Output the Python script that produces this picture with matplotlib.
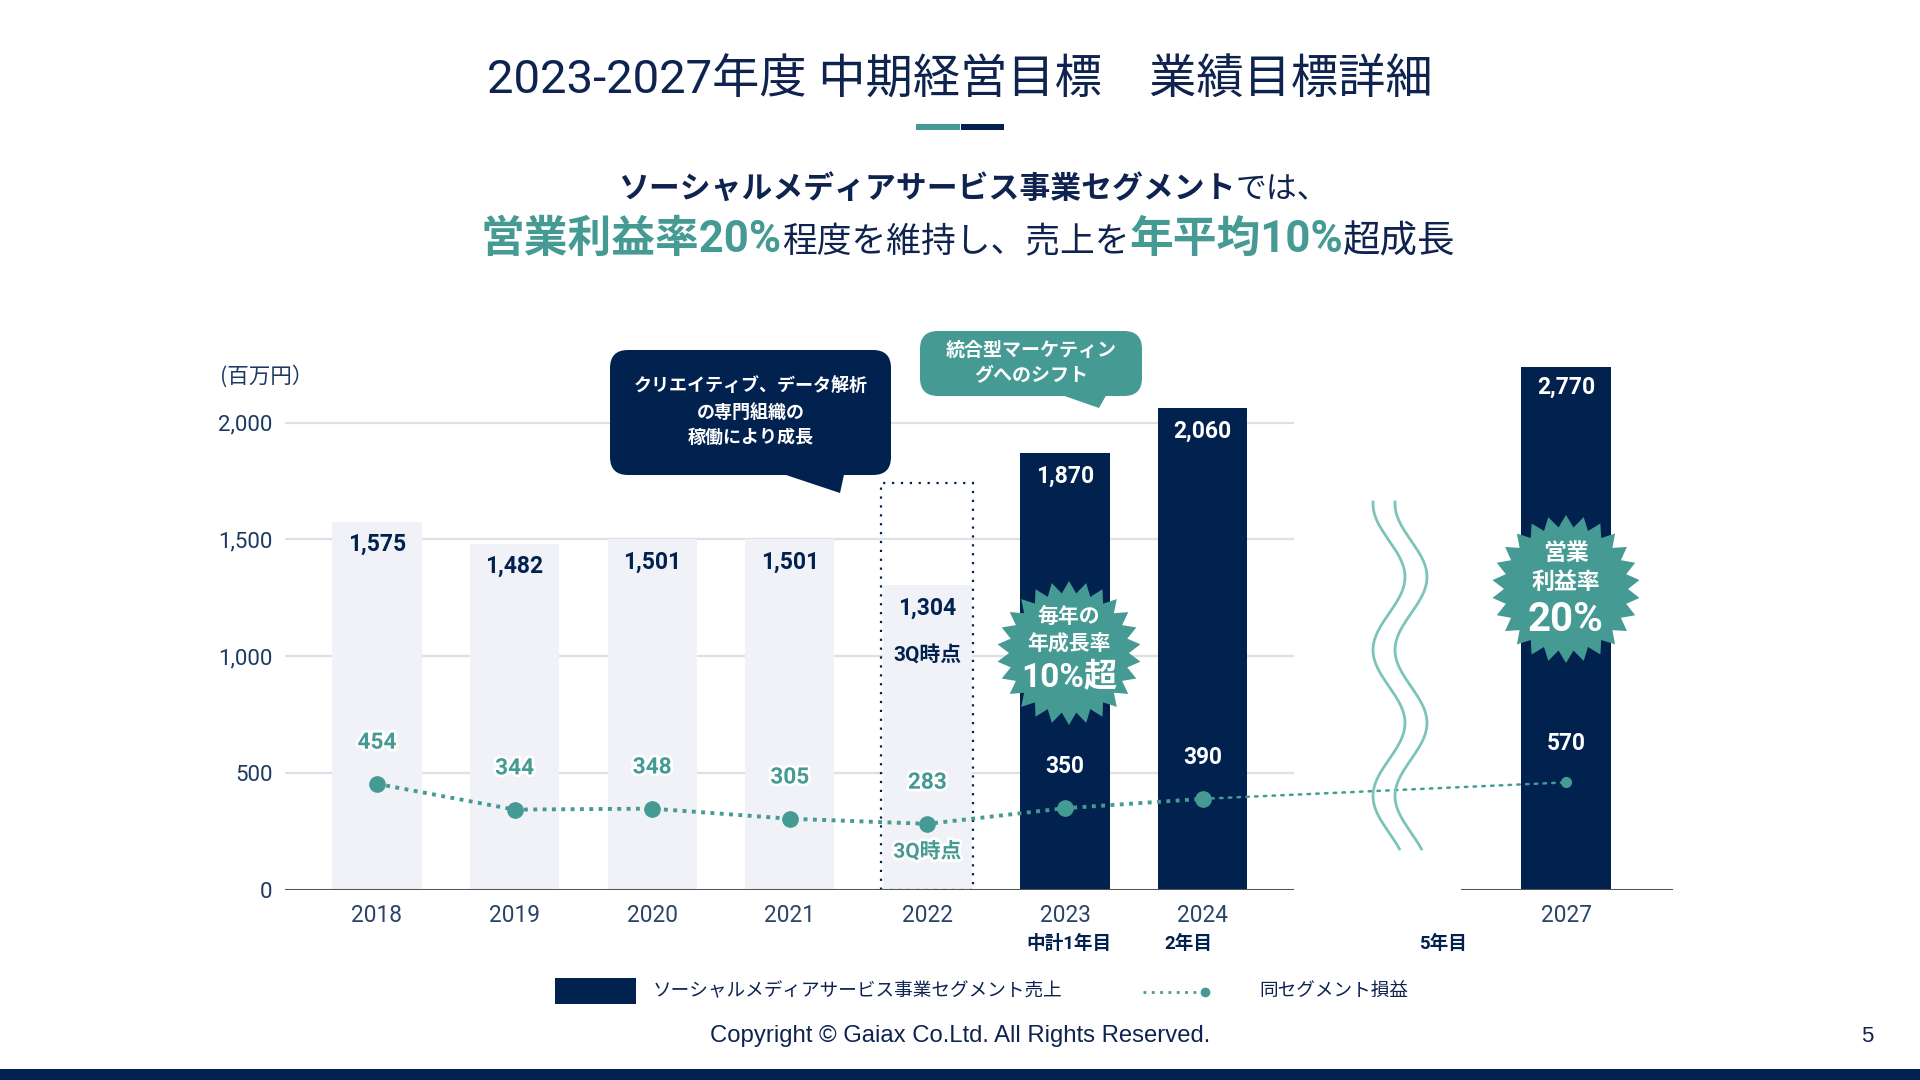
import matplotlib
matplotlib.use('Agg')
import matplotlib.pyplot as plt
from matplotlib.patches import Rectangle, FancyBboxPatch, Polygon, ConnectionPatch
from matplotlib.lines import Line2D
from matplotlib.transforms import Affine2D
import matplotlib.patheffects as pe
import numpy as np

# ---------------- data ----------------
years = ['2018', '2019', '2020', '2021', '2022', '2023', '2024']
sales = [1575, 1482, 1501, 1501, 1304, 1870, 2060]
profit = [454, 344, 348, 305, 283, 350, 390]
plan_year = '2027'
plan_sales = 2770
plan_profit = 570
yticks = [0, 500, 1000, 1500, 2000]
sub_labels = {'2023': '中計1年目', '2024': '2年目'}
plan_sub_label = '5年目'
partial_year = '2022'
partial_note = '3Q時点'
partial_box_top = 1740

# ---------------- style ----------------
W, H = 1920, 1080
NAVY = '#01214F'
TEAL = '#469A94'
WAVE = '#7CC4BA'
LIGHT = '#F0F2F7'
GRID = '#DDE0E7'
TXT = '#1D3A63'
JP = ['Noto Sans CJK JP', 'DejaVu Sans']
NUM = ['Roboto', 'Noto Sans CJK JP', 'DejaVu Sans']

fig = plt.figure(figsize=(19.2, 10.8), dpi=100)
fig.patch.set_facecolor('white')
px = Affine2D().scale(1, -1).translate(0, H)  # top-left origin pixel coords
renderer = fig.canvas.get_renderer()

# ---------------- main axes ----------------
unit_px = 137.6
base_y = 890
ax = fig.add_axes([285 / W, (H - base_y) / H, 1009 / W, (base_y - 375.75) / H])
x = np.arange(len(years))
ax.set_xlim((285 - 377) / unit_px, (1294 - 377) / unit_px)
ax.set_ylim(0, 2200)
for s in ax.spines.values():
    s.set_visible(False)
ax.patch.set_alpha(0)
xl = ax.get_xlim()
ax.hlines(yticks[1:], xl[0], xl[1], color=GRID, lw=1.6, zorder=1)
ax.axhline(0, color='#555555', lw=2.2, zorder=6)

colors = [LIGHT if i < 5 else NAVY for i in range(len(years))]
ax.bar(x, sales, width=0.647, color=colors, zorder=2)

ax.set_yticks(yticks, [f'{v:,}' for v in yticks])
ax.set_xticks(x, years)
ax.tick_params(axis='y', length=0, pad=9, labelsize=16, labelcolor=TXT)
ax.tick_params(axis='x', length=0, pad=10, labelsize=16.3, labelcolor='#2A4468')
for lab in ax.get_yticklabels() + ax.get_xticklabels():
    lab.set_family(NUM)

# 2022 dotted box
pi = years.index(partial_year)
ax.add_patch(Rectangle((pi - 0.335, 0), 0.67, partial_box_top, fill=False,
                       edgecolor=NAVY, lw=1.6, ls=(0, (1, 3)), zorder=3))

# sales labels
for i, v in enumerate(sales):
    c = NAVY if i < 5 else 'white'
    ax.annotate(f'{v:,}', (i, v), xytext=(0, -16.5), textcoords='offset points',
                ha='center', va='center', fontsize=16.5, fontweight='bold', color=c,
                family=NUM, zorder=7)
ax.annotate(partial_note, (pi, sales[pi]), xytext=(0, -51), textcoords='offset points',
            ha='center', va='center', fontsize=15, fontweight='bold', color=NAVY,
            family=NUM, zorder=7)

# profit line
ax.plot(x, profit, color=TEAL, lw=2.8, ls=(0, (1, 1.4)), marker='o', ms=11,
        markerfacecolor=TEAL, markeredgecolor=TEAL, zorder=5)
for i, v in enumerate(profit):
    c = TEAL if i < 5 else 'white'
    t = ax.annotate(f'{v}', (i, v), xytext=(0, 30), textcoords='offset points',
                    ha='center', va='center', fontsize=16.3, fontweight='bold', color=c,
                    family=NUM, zorder=7)
    if i < 5:
        t.set_path_effects([pe.withStroke(linewidth=4, foreground='white')])
t = ax.annotate(partial_note, (pi, profit[pi]), xytext=(0, -20), textcoords='offset points',
                ha='center', va='center', fontsize=15, fontweight='bold', color=TEAL,
                family=NUM, zorder=7)
t.set_path_effects([pe.withStroke(linewidth=4, foreground='white')])

# sub labels
for yr, lab in sub_labels.items():
    i = years.index(yr)
    dx = 3 if lab.startswith('中') else -10
    ax.annotate(lab, (i, 0), xytext=(dx, -39), textcoords='offset points',
                ha='center', va='center', fontsize=13.4, fontweight='bold', color=NAVY,
                family=NUM, annotation_clip=False)

# ---------------- plan (2027) axes ----------------
top2 = 340
ax2 = fig.add_axes([1461 / W, (H - base_y) / H, 212 / W, (base_y - top2) / H])
ax2.set_xlim((1461 - 1566) / unit_px, (1673 - 1566) / unit_px)
ax2.set_ylim(0, plan_sales * (base_y - top2) / (base_y - 367))
for s in ax2.spines.values():
    s.set_visible(False)
ax2.patch.set_alpha(0)
ax2.axhline(0, color='#555555', lw=2.2, zorder=6)
ax2.bar([0], [plan_sales], width=0.647, color=NAVY, zorder=2)
ax2.set_yticks([])
ax2.set_xticks([0], [plan_year])
ax2.tick_params(axis='x', length=0, pad=10, labelsize=16.3, labelcolor='#2A4468')
for lab in ax2.get_xticklabels():
    lab.set_family(NUM)
ax2.annotate(f'{plan_sales:,}', (0, plan_sales), xytext=(0, -14.5), textcoords='offset points',
             ha='center', va='center', fontsize=16.5, fontweight='bold', color='white', family=NUM)
ax2.plot([0], [plan_profit], marker='o', ms=7, color=TEAL, zorder=5)
ax2.annotate(f'{plan_profit}', (0, plan_profit), xytext=(0, 28), textcoords='offset points',
             ha='center', va='center', fontsize=16.3, fontweight='bold', color='white', family=NUM)
ax2.annotate(plan_sub_label, (0, 0), xytext=(-88.5, -39), textcoords='offset points',
             ha='center', va='center', fontsize=13.4, fontweight='bold', color=NAVY,
             family=NUM, annotation_clip=False)

con = ConnectionPatch(xyA=(len(years) - 1, profit[-1]), coordsA=ax.transData,
                      xyB=(0, plan_profit), coordsB=ax2.transData,
                      color=TEAL, lw=1.8, ls=(0, (1, 2.5)), zorder=3)
fig.add_artist(con)

# wavy break lines
yy = np.linspace(502, 849, 200)
for off in (0, 22):
    xx = 1389 + off + 16 * np.sin(2 * np.pi * (yy - 540.5) / 146)
    fig.add_artist(Line2D(xx, yy, color=WAVE, lw=2, transform=px, zorder=4))

# ---------------- badges ----------------
def star(cx, cy, R, r, n):
    ang = np.linspace(0, 2 * np.pi, 2 * n, endpoint=False) + np.pi / 2
    rad = np.where(np.arange(2 * n) % 2 == 0, R, r)
    pts = np.column_stack([cx + rad * np.cos(ang), cy - rad * np.sin(ang)])
    fig.add_artist(Polygon(pts, closed=True, transform=px, facecolor=TEAL,
                           edgecolor='none', zorder=8))

star(1069, 653, 72, 60, 26)
for s, yv, fs in [('毎年の', 617, 15), ('年成長率', 643, 15), ('10%超', 678, 24)]:
    fig.text(1069, yv, s, transform=px, ha='center', va='center', fontsize=fs,
             fontweight='bold', color='white', family=NUM, zorder=9)
star(1566, 589, 74, 62, 26)
for s, yv, fs in [('営業', 553, 16.5), ('利益率', 582, 16.5), ('20%', 620, 29)]:
    fig.text(1566, yv, s, transform=px, ha='center', va='center', fontsize=fs,
             fontweight='bold', color='white', family=NUM, zorder=9)

# ---------------- callouts ----------------
def callout(x0, y0, x1, y1, tail, color, lines, cx, ys, fs):
    fig.add_artist(FancyBboxPatch((x0, y0), x1 - x0, y1 - y0,
                                  boxstyle='round,pad=0,rounding_size=18',
                                  transform=px, facecolor=color, edgecolor='none', zorder=8))
    fig.add_artist(Polygon(tail, closed=True, transform=px, facecolor=color,
                           edgecolor='none', zorder=8))
    for s, yv in zip(lines, ys):
        fig.text(cx, yv, s, transform=px, ha='center', va='center', fontsize=fs,
                 fontweight='bold', color='white', family=JP, zorder=9)

callout(610, 350, 891, 475, [(771, 470), (845, 470), (840, 493)], NAVY,
        ['クリエイティブ、データ解析', 'の専門組織の', '稼働により成長'], 751, [386, 412, 437], 13)
callout(920, 331, 1142, 396, [(1053, 392), (1108, 392), (1099, 408)], TEAL,
        ['統合型マーケティン', 'グへのシフト'], 1031, [350, 376], 13.7)

# ---------------- title & headline ----------------
fig.text(960, 80, '2023-2027年度 中期経営目標\u3000業績目標詳細', transform=px, ha='center',
         va='center', fontsize=34, color='#0E2350', family=NUM)
fig.add_artist(Rectangle((916, 124), 44, 6, transform=px, facecolor=TEAL, edgecolor='none'))
fig.add_artist(Rectangle((961, 124), 43, 6, transform=px, facecolor=NAVY, edgecolor='none'))


def rich_line(parts, cx, y_base):
    texts = []
    for s, size, weight, color in parts:
        t = fig.text(0, 0, s, fontsize=size, fontweight=weight, color=color, family=NUM,
                     transform=px, va='baseline', ha='left')
        texts.append(t)
    widths = [t.get_window_extent(renderer).width for t in texts]
    xpos = cx - sum(widths) / 2
    for t, w in zip(texts, widths):
        t.set_position((xpos, y_base))
        xpos += w


rich_line([('ソーシャルメディアサービス事業セグメント', 22.2, 'bold', '#0E2350'),
           ('では、', 22.2, 'normal', '#0E2350')], 973, 198)
rich_line([('営業利益率20%', 31.5, 'bold', TEAL),
           ('程度を維持し、売上を', 25, 'normal', '#0E2350'),
           ('年平均10%', 31.5, 'bold', TEAL),
           ('超成長', 27, 'normal', '#0E2350')], 968, 252)

# unit label
fig.text(220, 376, '(百万円）', transform=px, ha='left', va='center', fontsize=15.5,
         color=TXT, family=JP)

# ---------------- legend ----------------
fig.add_artist(Rectangle((555, 978), 81, 26, transform=px, facecolor=NAVY, edgecolor='none'))
fig.text(653, 991, 'ソーシャルメディアサービス事業セグメント売上', transform=px, ha='left',
         va='center', fontsize=13.4, color='#0E2350', family=JP)
fig.add_artist(Line2D([1143, 1200], [992, 992], color=TEAL, lw=2, ls=(0, (1, 2)), transform=px))
fig.add_artist(Line2D([1205], [992], color=TEAL, marker='o', ms=6, transform=px))
fig.text(1259, 991, '同セグメント損益', transform=px, ha='left', va='center', fontsize=13.4,
         color='#0E2350', family=JP)

# ---------------- footer ----------------
fig.text(960, 1036, 'Copyright © Gaiax Co.Ltd. All Rights Reserved.', transform=px,
         ha='center', va='center', fontsize=17.2, color='#0E2350', family=['Liberation Sans', 'DejaVu Sans'])
fig.text(1867, 1036, '5', transform=px, ha='center', va='center', fontsize=16,
         color='#0E2350', family=['Liberation Sans', 'DejaVu Sans'])
fig.add_artist(Rectangle((0, 1069), W, 11, transform=px, facecolor=NAVY, edgecolor='none'))

fig.savefig('out.png', dpi=100, facecolor='white')
